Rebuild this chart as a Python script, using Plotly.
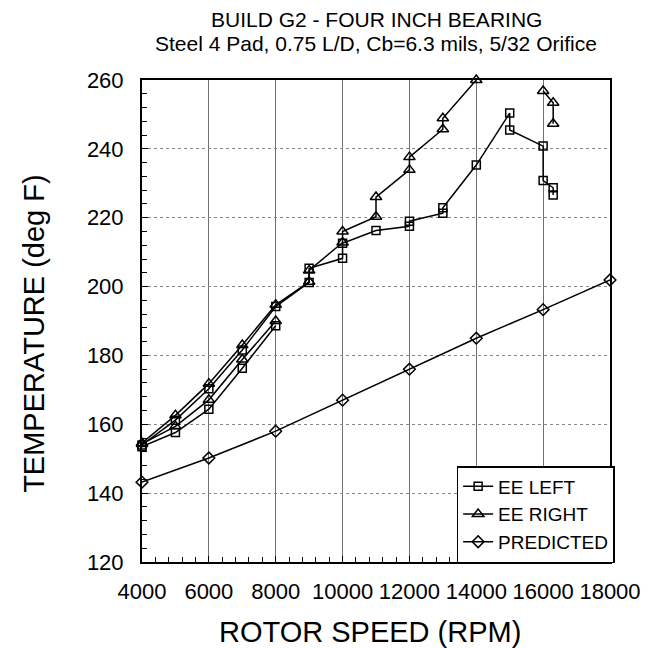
import plotly.graph_objects as go

# ---- data ----
# EE LEFT (squares): lower run, then upper run continuing to high speed
left_low_rpm = [4000, 5000, 6000, 7000, 8000]
left_low_temp = [153.5, 157.6, 164.4, 176.3, 188.6]
left_up_rpm = [4000, 5000, 6000, 7000, 8000, 9000, 9000, 10000, 10000, 11000,
               12000, 12000, 13000, 13000, 14000, 15000, 15000, 16000, 16000,
               16300, 16300]
left_up_temp = [154.0, 161.2, 170.3, 181.6, 194.2, 201.2, 205.3, 208.2, 212.6, 216.3,
                217.5, 219.0, 221.3, 222.9, 235.3, 250.4, 245.5, 240.8, 230.8,
                228.7, 226.6]

# EE RIGHT (triangles)
right_low_rpm = [4000, 5000, 6000, 7000, 8000]
right_low_temp = [154.3, 159.4, 167.1, 178.8, 190.0]
right_up_rpm = [4000, 5000, 6000, 7000, 8000, 9000, 9000, 10000, 10000, 11000,
                11000, 12000, 12000, 13000, 13000, 14000]
right_up_temp = [154.6, 162.6, 171.8, 183.0, 194.7, 201.4, 204.7, 212.8, 216.0, 220.3,
                 226.0, 233.9, 237.6, 245.7, 248.9, 260.0]
right_hi_rpm = [16000, 16300, 16300]
right_hi_temp = [256.8, 253.4, 247.3]

# PREDICTED (diamonds)
pred_rpm = [4000, 6000, 8000, 10000, 12000, 14000, 16000, 18000]
pred_temp = [143.2, 150.2, 158.0, 167.0, 176.0, 185.0, 193.3, 201.9]

x_ticks = [4000, 6000, 8000, 10000, 12000, 14000, 16000, 18000]
y_ticks = [120, 140, 160, 180, 200, 220, 240, 260]

title_line1 = "BUILD G2 - FOUR INCH BEARING"
title_line2 = "Steel 4 Pad, 0.75 L/D, Cb=6.3 mils, 5/32 Orifice"
x_title = "ROTOR SPEED (RPM)"
y_title = "TEMPERATURE (deg F)"


def joined(*segs):
    xs, ys = [], []
    for i, (sx, sy) in enumerate(segs):
        if i:
            xs.append(None)
            ys.append(None)
        xs += sx
        ys += sy
    return xs, ys


FONT = "Liberation Sans, Arial, Helvetica, sans-serif"
W, H = 653, 648
ML, MR, MT, MB = 142, 35, 80, 86
PW, PH = W - ML - MR, H - MT - MB

fig = go.Figure()

lx, ly = joined((left_low_rpm, left_low_temp), (left_up_rpm, left_up_temp))
rx, ry = joined((right_low_rpm, right_low_temp), (right_up_rpm, right_up_temp),
                (right_hi_rpm, right_hi_temp))

common = dict(mode="lines+markers", cliponaxis=False, connectgaps=False,
              line=dict(color="black", width=1.5))
fig.add_trace(go.Scatter(x=lx, y=ly, name="EE LEFT",
                         marker=dict(symbol="square-open", size=8, color="black",
                                     line=dict(width=1.5, color="black")), **common))
fig.add_trace(go.Scatter(x=rx, y=ry, name="EE RIGHT",
                         marker=dict(symbol="triangle-up-open", size=10, color="black",
                                     line=dict(width=1.5, color="black")), **common))
fig.add_trace(go.Scatter(x=pred_rpm, y=pred_temp, name="PREDICTED",
                         marker=dict(symbol="diamond-open", size=9, color="black",
                                     line=dict(width=1.5, color="black")), **common))

annotations = [
    dict(text=title_line1, xref="paper", yref="paper", x=0.5,
         y=1 + (MT - 19) / PH, xanchor="center", yanchor="middle", showarrow=False,
         font=dict(size=21, family=FONT, color="black")),
    dict(text=title_line2, xref="paper", yref="paper", x=0.5,
         y=1 + (MT - 43) / PH, xanchor="center", yanchor="middle", showarrow=False,
         font=dict(size=21, family=FONT, color="black")),
    dict(text=x_title, xref="paper", yref="paper", x=(374 - ML) / PW,
         y=-(632 - (H - MB)) / PH, xanchor="center", yanchor="middle", showarrow=False,
         font=dict(size=29, family=FONT, color="black")),
    dict(text=y_title, xref="paper", yref="paper", x=(32 - ML) / PW,
         y=((H - MB) - 333) / PH, xanchor="center", yanchor="middle", showarrow=False,
         textangle=-90,
         font=dict(size=29, family=FONT, color="black")),
]

fig.update_layout(
    width=W, height=H,
    margin=dict(l=ML, r=MR, t=MT, b=MB),
    paper_bgcolor="white", plot_bgcolor="white",
    font=dict(family=FONT, color="black"),
    annotations=annotations,
    showlegend=True,
    legend=dict(x=(462 - ML) / PW, y=(H - MB - 466) / PH, xanchor="left", yanchor="top",
                bgcolor="white", bordercolor="black", borderwidth=1.5,
                font=dict(size=19, family=FONT, color="black"),
                itemwidth=30, tracegroupgap=0),
)

fig.update_xaxes(
    range=[4000, 18000], tickvals=x_ticks, ticktext=[str(v) for v in x_ticks],
    showline=True, linecolor="black", linewidth=2, mirror=True,
    ticks="inside", ticklen=6, tickcolor="black",
    tickfont=dict(size=22, family=FONT, color="black"),
    ticklabelstandoff=9,
    showgrid=True, gridcolor="#707070", gridwidth=1,
    minor=dict(dtick=400, ticks="inside", ticklen=5, tickcolor="black", showgrid=False),
    zeroline=False,
)
fig.update_yaxes(
    range=[120, 260], tickvals=y_ticks, ticktext=[str(v) for v in y_ticks],
    showline=True, linecolor="black", linewidth=2, mirror=True,
    ticks="inside", ticklen=6, tickcolor="black",
    tickfont=dict(size=22, family=FONT, color="black"),
    ticklabelstandoff=12,
    showgrid=True, gridcolor="#888888", gridwidth=1, griddash="dot",
    minor=dict(dtick=4, ticks="inside", ticklen=5, tickcolor="black", showgrid=False),
    zeroline=False,
)

fig.write_html("out.html")
